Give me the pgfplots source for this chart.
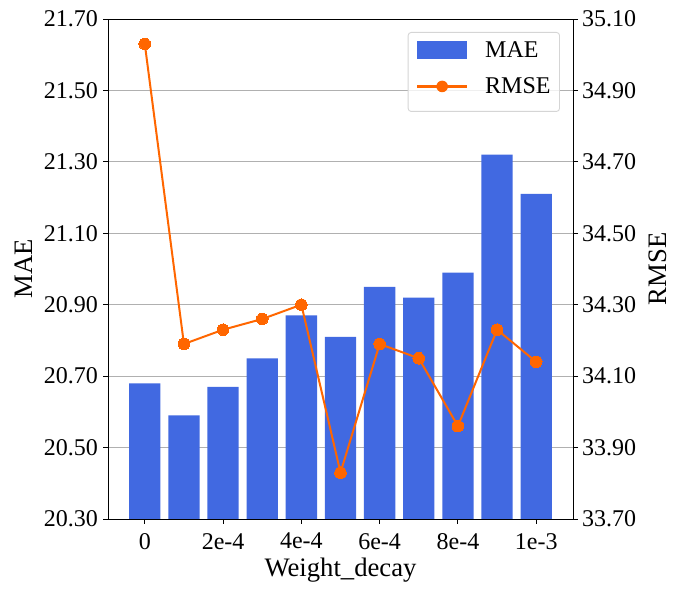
\documentclass[border=0pt]{standalone}
\usepackage{pgfplots}
\pgfplotsset{compat=1.18}
\usepackage{fontspec}
\setmainfont{Liberation Serif}
\definecolor{barblue}{HTML}{4169E1}
\definecolor{lineorange}{HTML}{FF6600}
\definecolor{gridgray}{HTML}{B0B0B0}
\definecolor{legframe}{HTML}{D5D5D5}
\pgfplotstableread{
x mae rmse
0 20.68 35.03
1 20.59 34.19
2 20.67 34.23
3 20.75 34.26
4 20.87 34.30
5 20.81 33.83
6 20.95 34.19
7 20.92 34.15
8 20.99 33.96
9 21.32 34.23
10 21.21 34.14
}\datatable
\begin{document}
\begin{tikzpicture}
\useasboundingbox (0,0) rectangle (680pt,594pt);
\begin{axis}[
  at={(108pt,75pt)}, anchor=south west,
  width=465pt, height=500pt, scale only axis,
  xmin=-0.94, xmax=10.94,
  ymin=20.30, ymax=21.70,
  xtick={0,2,4,6,8,10},
  xticklabels={0,2e-4,4e-4,6e-4,8e-4,1e-3},
  ytick={20.30,20.50,20.70,20.90,21.10,21.30,21.50,21.70},
  yticklabels={20.30,20.50,20.70,20.90,21.10,21.30,21.50,21.70},
  xtick pos=bottom, ytick pos=left,
  tick align=outside, major tick length=5pt,
  tick style={black, line width=0.9pt},
  axis line style={line width=0.9pt},
  ymajorgrids, grid style={gridgray, line width=0.9pt},
  ticklabel style={font=\fontsize{24}{28}\selectfont},
  xticklabel style={inner sep=0pt, yshift=-9pt},
  yticklabel style={inner sep=0pt, xshift=-5pt},
  xlabel={Weight\_decay}, ylabel={MAE},
  every axis x label/.style={at={(axis description cs:0.5,-0.116)}, anchor=base, inner sep=0pt, font=\fontsize{26.67}{30}\selectfont},
  every axis y label/.style={at={(axis description cs:-0.163,0.5)}, rotate=90, anchor=base, inner sep=0pt, font=\fontsize{26.67}{30}\selectfont},
]
\addplot[ybar, bar width=0.8, fill=barblue, draw=none] table[x=x, y=mae] {\datatable};
\end{axis}
\begin{axis}[
  at={(108pt,75pt)}, anchor=south west,
  width=465pt, height=500pt, scale only axis,
  xmin=-0.94, xmax=10.94,
  ymin=33.70, ymax=35.10,
  xtick=\empty,
  ytick={33.70,33.90,34.10,34.30,34.50,34.70,34.90,35.10},
  yticklabels={33.70,33.90,34.10,34.30,34.50,34.70,34.90,35.10},
  ytick pos=right, yticklabel pos=right,
  tick align=outside, major tick length=5pt,
  tick style={black, line width=0.9pt},
  axis line style={line width=0.9pt},
  ticklabel style={font=\fontsize{24}{28}\selectfont},
  yticklabel style={inner sep=0pt, xshift=4pt},
  ylabel={RMSE},
  every axis y label/.style={at={(axis description cs:1.202,0.5)}, rotate=90, anchor=base, inner sep=0pt, font=\fontsize{26.67}{30}\selectfont},
  legend style={at={(0.972,0.974)}, anchor=north east, draw=legframe, line width=0.9pt, rounded corners=3pt,
    fill=white, fill opacity=0.8, text opacity=1, draw opacity=1, inner xsep=9pt, inner ysep=9pt,
    font=\fontsize{24}{28}\selectfont, row sep=18pt, column sep=18pt,
    nodes={inner sep=0pt}},
  legend cell align=left,
]
\addlegendimage{legend image code/.code={\fill[barblue, draw=none, fill opacity=1, sharp corners] (0pt,-9pt) rectangle (50pt,9pt);}}
\addlegendentry{MAE}
\addplot[lineorange, line width=2pt, mark=*, mark size=5.8pt, mark options={fill=lineorange, draw=lineorange, line width=0pt},
  legend image code/.code={\path[draw=none, fill=none] (0pt,-16pt) rectangle (50pt,9pt); \fill[lineorange, draw=none, fill opacity=1, sharp corners] (0pt,-1.1pt) rectangle (50pt,1.1pt); \fill[lineorange, draw=none, fill opacity=1] (25pt,0pt) circle (5.8pt);}]
  table[x=x, y=rmse] {\datatable};
\addlegendentry{RMSE}
\end{axis}
\end{tikzpicture}
\end{document}
